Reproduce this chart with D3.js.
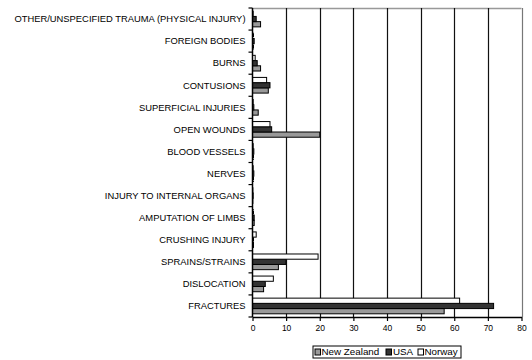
<!DOCTYPE html>
<html><head><meta charset="utf-8">
<script src="https://cdn.jsdelivr.net/npm/d3@7"></script>
<style>
html,body{margin:0;padding:0;background:#fff;}
svg{display:block;font-family:"Liberation Sans",Arial,sans-serif;}
</style></head>
<body>
<svg id="chart" width="532" height="360"></svg>
<script>
const categories = [
  "OTHER/UNSPECIFIED TRAUMA (PHYSICAL INJURY)",
  "FOREIGN BODIES",
  "BURNS",
  "CONTUSIONS",
  "SUPERFICIAL INJURIES",
  "OPEN WOUNDS",
  "BLOOD VESSELS",
  "NERVES",
  "INJURY TO INTERNAL ORGANS",
  "AMPUTATION OF LIMBS",
  "CRUSHING INJURY",
  "SPRAINS/STRAINS",
  "DISLOCATION",
  "FRACTURES"
];
const seriesNames = ["New Zealand", "USA", "Norway"];
const newZealand = [2.4, 0.3, 2.4, 4.7, 1.7, 20.0, 0.3, 0.3, 0.1, 0.5, 0.3, 7.7, 3.3, 57.0];
const usa        = [1.1, 0.5, 1.4, 5.2, 0.4, 5.7, 0.4, 0.4, 0.2, 0.5, 0.3, 9.9, 3.8, 71.7];
const norway     = [0.2, 0.3, 0.8, 4.2, 0.2, 5.2, 0.2, 0.2, 0.1, 0.3, 1.1, 19.5, 6.2, 61.6];
const xTicks = [0, 10, 20, 30, 40, 50, 60, 70, 80];
const colors = ["#999999", "#333333", "#ffffff"];

(function () {
const values = [newZealand, usa, norway];
const svg = d3.select("#chart");
const pLeft = 252.5, pRight = 521.5, pTop = 8, pBottom = 317;

const x = d3.scaleLinear().domain([0, 80]).range([pLeft, pRight]);
const y0 = d3.scaleBand().domain(categories).range([pTop, pBottom]).paddingInner(0.29).paddingOuter(0.145);
const yb = d3.scaleBand().domain(categories).range([pTop, pBottom]);
const y1 = d3.scaleBand().domain(["Norway", "USA", "New Zealand"]).range([0, y0.bandwidth()]);

svg.append("line").attr("x1", pLeft).attr("x2", pRight).attr("y1", pTop + 0.5).attr("y2", pTop + 0.5)
  .attr("stroke", "#999").attr("stroke-width", 1.3);

svg.append("g").selectAll("line").data(xTicks.filter(d => d > 0)).join("line")
  .attr("x1", d => Math.round(x(d)) + 0.5).attr("x2", d => Math.round(x(d)) + 0.5)
  .attr("y1", pTop).attr("y2", pBottom)
  .attr("stroke", d => d === 80 ? "#777" : "#111").attr("stroke-width", 1.2);

seriesNames.forEach((s, si) => {
  svg.append("g").selectAll("rect").data(categories).join("rect")
    .attr("x", x(0))
    .attr("y", c => y0(c) + y1(s))
    .attr("width", (c, i) => Math.max(0, x(values[si][i]) - x(0)))
    .attr("height", y1.bandwidth())
    .attr("fill", colors[si])
    .attr("stroke", "#000").attr("stroke-width", 1);
});

const xAxis = d3.axisBottom(x).tickValues(xTicks).tickSize(4).tickSizeOuter(0);
const gx = svg.append("g").attr("transform", `translate(0,${pBottom})`).call(xAxis);
gx.select(".domain").attr("stroke", "#000").attr("stroke-width", 1.5);
gx.selectAll(".tick line").attr("stroke", "#000").attr("stroke-width", 1.2);
gx.selectAll(".tick text").attr("font-size", 8.5).attr("font-family", "Liberation Sans, Arial, sans-serif")
  .attr("fill", "#000").attr("dy", "0.85em");

svg.append("line").attr("x1", pLeft).attr("x2", pLeft).attr("y1", pTop).attr("y2", pBottom)
  .attr("stroke", "#000").attr("stroke-width", 1.5);
const bounds = categories.map(c => yb(c)).concat([pBottom]);
svg.append("g").selectAll("line").data(bounds).join("line")
  .attr("x1", pLeft - 4).attr("x2", pLeft).attr("y1", d => d).attr("y2", d => d)
  .attr("stroke", "#000").attr("stroke-width", 1.2);
svg.append("g").selectAll("text").data(categories).join("text")
  .attr("x", 245.5).attr("y", c => yb(c) + yb.bandwidth() / 2)
  .attr("dy", "0.35em").attr("text-anchor", "end")
  .attr("font-size", 9.4).attr("fill", "#000")
  .text(c => c);

const lg = svg.append("g");
lg.append("rect").attr("x", 313).attr("y", 346).attr("width", 148).attr("height", 12)
  .attr("fill", "#fff").attr("stroke", "#000").attr("stroke-width", 1);
const legendItems = [
  {name: "New Zealand", sx: 315, tx: 321.5, c: colors[0]},
  {name: "USA", sx: 386, tx: 393, c: colors[1]},
  {name: "Norway", sx: 418, tx: 424.5, c: colors[2]}
];
legendItems.forEach(it => {
  lg.append("rect").attr("x", it.sx).attr("y", 349).attr("width", 5.5).attr("height", 6)
    .attr("fill", it.c).attr("stroke", "#000").attr("stroke-width", 1);
  lg.append("text").attr("x", it.tx).attr("y", 352).attr("dy", "0.35em")
    .attr("font-size", 9.8).attr("fill", "#000").text(it.name);
});
})();
</script>
</body></html>
